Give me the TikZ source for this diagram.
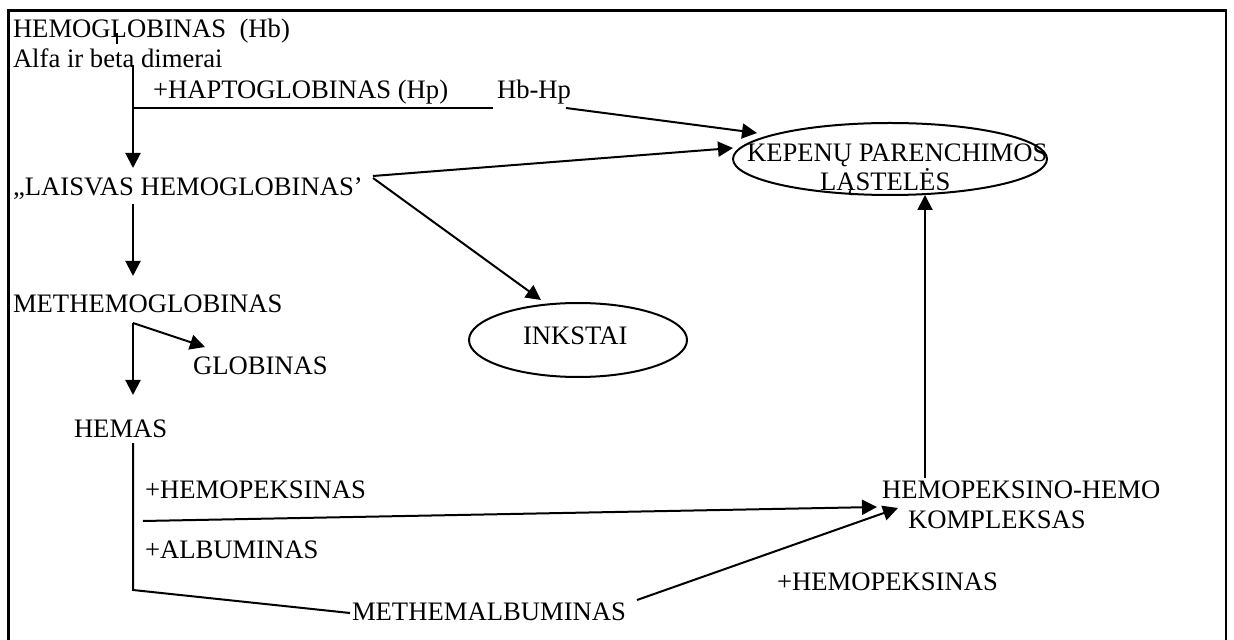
\documentclass[tikz,border=0pt]{standalone}
\usepackage{fontspec}
\setmainfont{Liberation Serif}
\usetikzlibrary{arrows.meta,shapes.geometric}
\tikzset{
  lbl/.style={inner sep=0pt, outer sep=0pt, anchor=base west, font=\fontsize{13.33}{16}\selectfont},
  conn/.style={line width=1pt},
  arr/.style={line width=1pt, -{Triangle[length=7.5pt,width=7.5pt]}},
  oval/.style={draw, ellipse, line width=1pt, inner sep=0pt},
  frame/.style={draw, line width=1.15pt}
}
\begin{document}
\begin{tikzpicture}[x=0.5pt,y=-0.5pt]
\useasboundingbox (0,0) rectangle (1234,640);
\clip (0,0) rectangle (1234,640);
\fill[white] (0,0) rectangle (1234,640);
\draw[frame] (8.5,660) -- (8.5,10.5) -- (1226,10.5) -- (1226,660);

% text nodes
\node[lbl] (hb) at (13,38) {HEMOGLOBINAS\ \ (Hb)};
\node[lbl] (alfa) at (13,68) {Alfa ir beta dimerai};
\node[lbl] (hapto) at (153,99) {+HAPTOGLOBINAS (Hp)};
\node[lbl] (hbhp) at (497,99) {Hb-Hp};
\node[lbl] (laisv) at (13,196) {„LAISVAS HEMOGLOBINAS’};
\node[lbl] (methb) at (13,313) {METHEMOGLOBINAS};
\node[lbl] (glob) at (193,375) {GLOBINAS};
\node[lbl] (hemas) at (74,437) {HEMAS};
\node[lbl] (hpx1) at (145,498) {+HEMOPEKSINAS};
\node[lbl] (alb) at (145,558) {+ALBUMINAS};
\node[lbl] (metalb) at (352,620) {METHEMALBUMINAS};
\node[lbl] (hpx2) at (777,590) {+HEMOPEKSINAS};
\node[lbl] (kompl1) at (882,498) {HEMOPEKSINO-HEMO};
\node[lbl] (kompl2) at (908,528) {KOMPLEKSAS};

% ellipses
\node[oval, minimum width=109pt, minimum height=37pt] (inkst) at (578,340) {};
\node[lbl] (inkstt) at (523,345) {INKSTAI};
\node[oval, minimum width=157pt, minimum height=36pt] (kep) at (890,159) {};
\node[lbl] (kep1) at (747,162) {KEPENŲ PARENCHIMOS};
\node[lbl] (kep2) at (820,191) {LĄSTELĖS};

% coordinates
\coordinate (t1) at (117,33);
\coordinate (t2) at (117,44);
\coordinate (s1) at (133,65);
\coordinate (j1) at (133,108);
\coordinate (h1) at (493,108);
\coordinate (e1) at (133,168);
\coordinate (hp1) at (566,108);
\coordinate (kp1) at (757,133);
\coordinate (ls1) at (373,176);
\coordinate (kp2) at (733,148);
\coordinate (ls2) at (373,178);
\coordinate (ik1) at (541,300);
\coordinate (s2) at (133,204);
\coordinate (e2) at (133,276);
\coordinate (s3) at (133,323);
\coordinate (e3) at (133,395);
\coordinate (g1) at (205,347);
\coordinate (s4) at (133,443);
\coordinate (c4) at (133,590);
\coordinate (m4) at (350,613);
\coordinate (s5) at (143,521);
\coordinate (k5) at (877,507);
\coordinate (s6) at (637,600);
\coordinate (k6) at (898,508);
\coordinate (s7) at (925,478);
\coordinate (k7) at (925,195);

% connectors
\draw[conn] (t1) -- (t2);
\draw[arr] (s1) -- (e1);
\draw[conn] (j1) -- (h1);
\draw[arr] (hp1) -- (kp1);
\draw[arr] (ls1) -- (kp2);
\draw[arr] (ls2) -- (ik1);
\draw[arr] (s2) -- (e2);
\draw[arr] (s3) -- (e3);
\draw[arr] (s3) -- (g1);
\draw[conn] (s4) -- (c4) -- (m4);
\draw[arr] (s5) -- (k5);
\draw[arr] (s6) -- (k6);
\draw[arr] (s7) -- (k7);
\end{tikzpicture}
\end{document}
